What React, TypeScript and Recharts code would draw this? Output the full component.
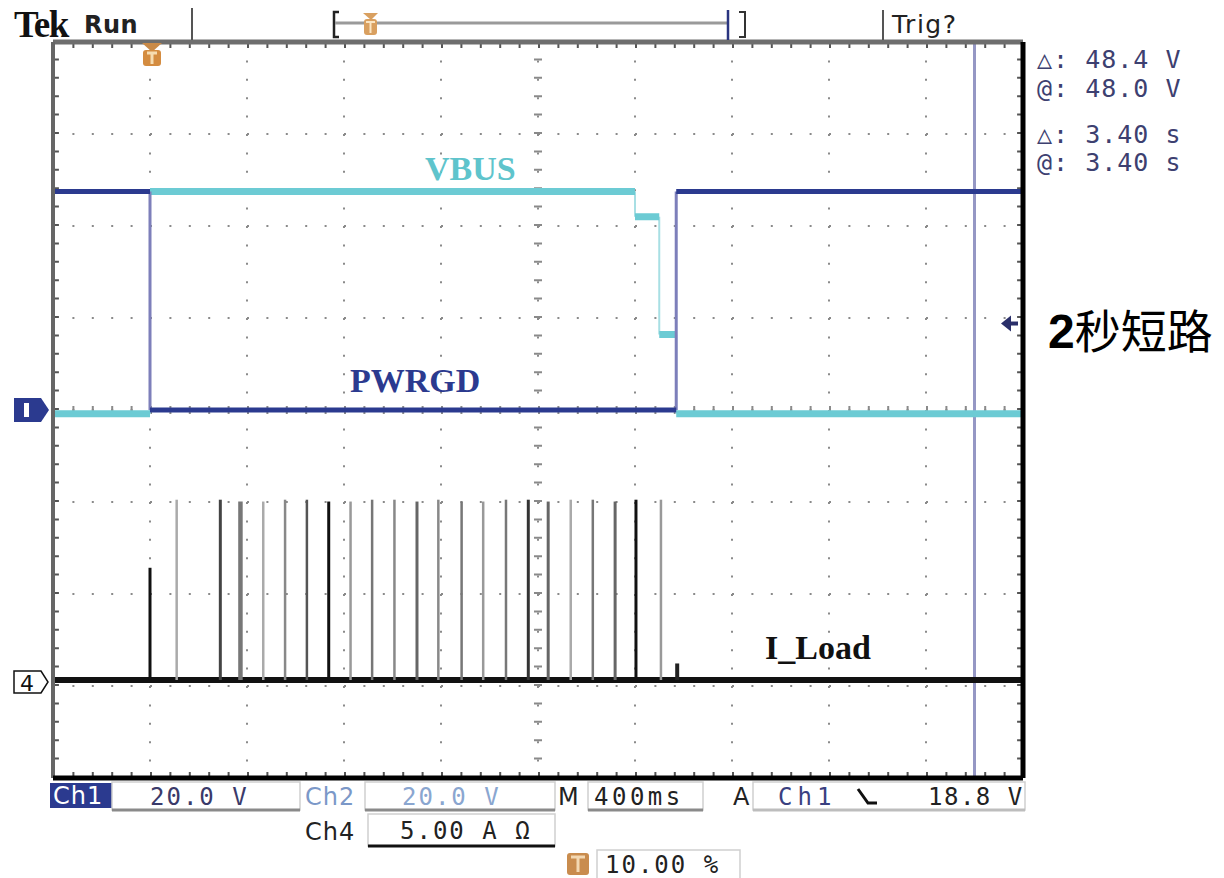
import { LineChart, Line, XAxis, YAxis, CartesianGrid, ReferenceLine, ReferenceDot } from 'recharts'

const W = 1224
const H = 878

// horizontal: 400 ms/div, 10 div, trigger at 10 %
const timeTicks = [-0.4, 0, 0.4, 0.8, 1.2, 1.6, 2.0, 2.4, 2.8, 3.2, 3.6]
// vertical: 8 div
const divTicks = [-4, -3, -2, -1, 0, 1, 2, 3, 4]

// Ch1 PWRGD, 20 V/div
const ch1Time = [-0.4, 0, 0, 2.17, 2.17, 3.6]
const ch1Volts = [47.5, 47.5, 0, 0, 47.5, 47.5]

// Ch2 VBUS, 20 V/div
const ch2Time = [-0.4, 0, 0, 2.0, 2.0, 2.1, 2.1, 2.17, 2.17, 3.6]
const ch2Volts = [-0.8, -0.8, 47.5, 47.5, 42, 42, 16.4, 16.4, -0.8, -0.8]

// Ch4 I_Load, 5 A/div, pulses during the short
const pulseTime = [0.0, 0.11, 0.29, 0.373, 0.467, 0.557, 0.647, 0.737, 0.827, 0.916, 1.008, 1.101, 1.189, 1.285, 1.374, 1.468, 1.56, 1.642, 1.735, 1.826, 1.918, 2.004, 2.107, 2.174]
const pulseAmps = [6.1, 9.8, 9.8, 9.7, 9.7, 9.8, 9.8, 9.7, 9.7, 9.8, 9.8, 9.7, 9.8, 9.7, 9.7, 9.8, 9.8, 9.7, 9.8, 9.8, 9.7, 9.8, 9.8, 0.9]
const pulseShade = ['#111', '#aaa', '#444', '#777', '#aaa', '#888', '#555', '#111', '#999', '#777', '#888', '#666', '#888', '#777', '#999', '#777', '#333', '#666', '#aaa', '#777', '#666', '#111', '#999', '#222']
const pulseWidth = [3, 2.5, 3, 4.5, 2.5, 2.5, 2.5, 3, 2.5, 2.5, 2.5, 3, 2.5, 2.5, 2.5, 2.5, 3, 3, 2.5, 2.5, 3, 3, 2.5, 4]

const CH1_SCALE = 20
const CH2_SCALE = 20
const CH4_SCALE = 5
const CH4_OFFSET = -2.935
const TRIG_LEVEL = 18.8
const CURSOR_T = 3.4

const X_DOMAIN: [number, number] = [-0.4, 3.6]
const Y_DOMAIN: [number, number] = [-4, 4]

const BLUE = '#2b3a8f'
const CYAN = '#6ccbd4'

const mono = '"DejaVu Sans Mono", "Liberation Mono", monospace'
const sans = '"DejaVu Sans", "Liberation Sans", sans-serif'
const serif = '"Liberation Serif", "Times New Roman", serif'

type Pt = { t: number; y: number | null }

// flat parts only, broken where the value jumps
function levels(time: number[], vals: number[], scale: number, offset: number): Pt[] {
  const out: Pt[] = []
  for (let i = 0; i < time.length; i++) {
    if (i > 0 && vals[i] !== vals[i - 1]) out.push({ t: time[i], y: null })
    out.push({ t: time[i], y: vals[i] / scale + offset })
  }
  return out
}

// the jumps only
function edges(time: number[], vals: number[], scale: number, offset: number): Pt[] {
  const out: Pt[] = []
  for (let i = 1; i < time.length; i++) {
    if (vals[i] !== vals[i - 1]) {
      out.push({ t: time[i - 1], y: vals[i - 1] / scale + offset })
      out.push({ t: time[i], y: vals[i] / scale + offset })
      out.push({ t: time[i], y: null })
    }
  }
  return out
}

const Ch1Marker = ({ cx, cy }: any) => (
  <g>
    <path d={`M${cx - 39} ${cy - 12} H${cx - 12} L${cx - 4} ${cy} L${cx - 12} ${cy + 12} H${cx - 39} Z`} fill={BLUE} />
    <rect x={cx - 29} y={cy - 7} width={5} height={14} fill="#fff" />
  </g>
)

const Ch4Marker = ({ cx, cy }: any) => (
  <g>
    <path d={`M${cx - 39} ${cy - 9} H${cx - 12} L${cx - 5} ${cy + 2} L${cx - 12} ${cy + 13} H${cx - 39} Z`} fill="#fff" stroke="#111" strokeWidth={1.5} />
    <text x={cx - 33} y={cy + 11} fill="#111" fontFamily={sans} fontSize={22}>4</text>
  </g>
)

const TrigPosMarker = ({ cx, cy }: any) => (
  <g>
    <path d={`M${cx - 8} ${cy + 1} H${cx + 12} L${cx + 2} ${cy + 10} Z`} fill="#c98a48" />
    <rect x={cx - 7} y={cy + 8} width={18} height={16} rx={3} fill="#d48c40" />
    <path d={`M${cx - 3} ${cy + 11} H${cx + 7} M${cx + 2} ${cy + 11} V${cy + 22}`} stroke="#f6dcb0" strokeWidth={3} />
  </g>
)

const TrigLevelMarker = ({ cx, cy }: any) => (
  <g>
    <path d={`M${cx - 22} ${cy} L${cx - 12} ${cy - 8} L${cx - 12} ${cy + 8} Z`} fill="#2a2f6a" />
    <path d={`M${cx - 12} ${cy} H${cx - 5}`} stroke="#2a2f6a" strokeWidth={4} />
  </g>
)

function Box({ x, y, w, h, bottom = '#8a8a8a' }: { x: number; y: number; w: number; h: number; bottom?: string }) {
  return (
    <g>
      <rect x={x} y={y} width={w} height={h} fill="none" stroke="#cfcfcf" strokeWidth={1.5} />
      <line x1={x} x2={x + w} y1={y + h} y2={y + h} stroke={bottom} strokeWidth={3} />
    </g>
  )
}

export default function App() {
  const ch1Lv = levels(ch1Time, ch1Volts, CH1_SCALE, 0)
  const ch1Ed = edges(ch1Time, ch1Volts, CH1_SCALE, 0)
  const ch2Lv = levels(ch2Time, ch2Volts, CH2_SCALE, 0)
  const ch2Ed = edges(ch2Time, ch2Volts, CH2_SCALE, 0)
  const ch4Base = [{ t: X_DOMAIN[0], y: CH4_OFFSET }, { t: X_DOMAIN[1], y: CH4_OFFSET }]

  // edge tick offsets (about 3 px inside the frame)
  const padX = 0.012
  const padY = 0.033

  const mono24 = { fontFamily: mono, fontSize: 24, letterSpacing: 2 }

  return (
    <div style={{ position: 'absolute', left: 0, top: 0, width: W, height: H, background: '#fff', overflow: 'hidden' }}>
      <LineChart width={W} height={H} margin={{ top: 42, right: 201, bottom: 100, left: 53 }}>
        <XAxis type="number" dataKey="t" domain={X_DOMAIN} ticks={timeTicks} hide allowDataOverflow />
        <YAxis type="number" domain={Y_DOMAIN} ticks={divTicks} hide allowDataOverflow />
        <CartesianGrid vertical={false} horizontalValues={divTicks} stroke="#8a8a8a" strokeWidth={2} strokeDasharray="2 17.4" />
        <CartesianGrid horizontal={false} verticalValues={timeTicks} stroke="#8a8a8a" strokeWidth={2} strokeDasharray="2 16.4" />

        {/* graticule ticks: centre axes and frame */}
        <ReferenceLine x={1.6} stroke="#8a8a8a" strokeWidth={8} strokeDasharray="2 16.4" />
        <ReferenceLine y={0} stroke="#8a8a8a" strokeWidth={8} strokeDasharray="2 17.4" />
        <ReferenceLine x={X_DOMAIN[0] + padX} stroke="#555" strokeWidth={6} strokeDasharray="2 16.4" />
        <ReferenceLine x={X_DOMAIN[1] - padX} stroke="#555" strokeWidth={6} strokeDasharray="2 16.4" />
        <ReferenceLine y={Y_DOMAIN[1] - padY} stroke="#555" strokeWidth={6} strokeDasharray="2 17.4" />
        <ReferenceLine y={Y_DOMAIN[0] + padY} stroke="#555" strokeWidth={6} strokeDasharray="2 17.4" />

        {/* time cursor */}
        <ReferenceLine x={CURSOR_T} stroke="#9597c4" strokeWidth={3} />

        {/* Ch4 */}
        <Line data={ch4Base} dataKey="y" stroke="#111" strokeWidth={6} dot={false} isAnimationActive={false} />
        {pulseTime.map((t, i) => (
          <Line
            key={'p' + i}
            data={[{ t, y: CH4_OFFSET }, { t, y: CH4_OFFSET + pulseAmps[i] / CH4_SCALE }]}
            dataKey="y"
            stroke={pulseShade[i]}
            strokeWidth={pulseWidth[i]}
            dot={false}
            isAnimationActive={false}
          />
        ))}

        {/* Ch2 VBUS */}
        <Line data={ch2Ed} dataKey="y" stroke="#a8dfe4" strokeWidth={2} dot={false} isAnimationActive={false} />
        <Line data={ch2Lv} dataKey="y" stroke={CYAN} strokeWidth={7} dot={false} isAnimationActive={false} />

        {/* Ch1 PWRGD */}
        <Line data={ch1Ed} dataKey="y" stroke="#7d7fba" strokeWidth={3} dot={false} isAnimationActive={false} />
        <Line data={ch1Lv} dataKey="y" stroke={BLUE} strokeWidth={5} dot={false} isAnimationActive={false} />

        {/* frame */}
        <ReferenceLine y={Y_DOMAIN[1]} stroke="#6e6e6e" strokeWidth={5} />
        <ReferenceLine x={X_DOMAIN[0]} stroke="#666" strokeWidth={4} />
        <ReferenceLine x={X_DOMAIN[1]} stroke="#000" strokeWidth={5} />
        <ReferenceLine y={Y_DOMAIN[0]} stroke="#000" strokeWidth={5} />

        <ReferenceDot x={X_DOMAIN[0]} y={0} ifOverflow="visible" shape={Ch1Marker} />
        <ReferenceDot x={X_DOMAIN[0]} y={CH4_OFFSET} ifOverflow="visible" shape={Ch4Marker} />
        <ReferenceDot x={0} y={Y_DOMAIN[1]} ifOverflow="visible" shape={TrigPosMarker} />
        <ReferenceDot x={X_DOMAIN[1]} y={TRIG_LEVEL / CH1_SCALE} ifOverflow="visible" shape={TrigLevelMarker} />
      </LineChart>

      <svg width={W} height={H} style={{ position: 'absolute', left: 0, top: 0, pointerEvents: 'none' }}>
        {/* header */}
        <text x={14} y={37} fontFamily={serif} fontWeight="bold" fontSize={37} letterSpacing={-1.5} fill="#111">Tek</text>
        <text x={84} y={33} fontFamily={sans} fontSize={24} fontWeight="bold" letterSpacing={0.5} fill="#222">Run</text>
        <line x1={192} x2={192} y1={8} y2={40} stroke="#555" strokeWidth={2} />
        <path d="M339 12 H334 V37 H339" fill="none" stroke="#222" strokeWidth={2.5} />
        <line x1={335} x2={727} y1={23} y2={23} stroke="#9a9a9a" strokeWidth={3} />
        <line x1={728} x2={728} y1={10} y2={40} stroke="#2a3580" strokeWidth={2.5} />
        <path d="M739 12 H745 V37 H739" fill="none" stroke="#333" strokeWidth={2} />
        <path d="M363 13 H378 L371 20 Z" fill="#d9a060" />
        <rect x={364} y={19} width={13} height={16} rx={3} fill="#d9a060" />
        <path d="M366 22 H375 M370.5 22 V33" stroke="#fbe6c4" strokeWidth={2} />
        <line x1={883} x2={883} y1={10} y2={40} stroke="#555" strokeWidth={2} />
        <text x={892} y={33} fontFamily={sans} fontSize={25} letterSpacing={1.5} fill="#222">Trig?</text>

        {/* cursor readouts */}
        <g fontFamily={mono} fontSize={25} letterSpacing={1} fill="#3d4070">
          <text x={1037} y={68}>△: 48.4 V</text>
          <text x={1037} y={97}>@: 48.0 V</text>
          <text x={1037} y={143}>△: 3.40 s</text>
          <text x={1037} y={171}>@: 3.40 s</text>
        </g>

        {/* trace labels */}
        <text x={425} y={180} fontFamily={serif} fontWeight="bold" fontSize={34} fill="#5fc4cc">VBUS</text>
        <text x={350} y={392} fontFamily={serif} fontWeight="bold" fontSize={34} fill={BLUE}>PWRGD</text>
        <text x={765} y={659} fontFamily={serif} fontWeight="bold" fontSize={34} fill="#111">I_Load</text>

        <text x={1048} y={348} fill="#000">
          <tspan fontFamily='"Liberation Sans", Arial, sans-serif' fontWeight="bold" fontSize={48}>2</tspan>
          <tspan fontFamily='"Noto Sans CJK SC", sans-serif' fontSize={46}>秒短路</tspan>
        </text>

        {/* bottom status */}
        <rect x={50} y={783} width={62} height={25} fill={BLUE} />
        <text x={53} y={804} fontFamily={sans} fontSize={24} letterSpacing={1} fill="#fff">Ch1</text>
        <Box x={112} y={782} w={188} h={28} />
        <text x={150} y={805} {...mono24} fill="#3a3a6a">20.0 V</text>

        <text x={305} y={805} fontFamily={sans} fontSize={24} letterSpacing={1} fill="#7b98c8">Ch2</text>
        <Box x={365} y={782} w={190} h={28} />
        <text x={402} y={805} {...mono24} fill="#8aa6d0">20.0 V</text>

        <text x={558} y={805} fontFamily={sans} fontSize={24} fill="#222">M</text>
        <Box x={588} y={782} w={115} h={28} />
        <text x={594} y={805} {...mono24} letterSpacing={3.5} fill="#222">400ms</text>

        <text x={733} y={805} fontFamily={sans} fontSize={24} fill="#222">A</text>
        <Box x={753} y={782} w={272} h={28} bottom="#bdbdbd" />
        <text x={778} y={805} {...mono24} letterSpacing={5} fill="#3a4080">Ch1</text>
        <path d="M858 789 L868 803 H877" fill="none" stroke="#111" strokeWidth={3} />
        <text x={928} y={805} {...mono24} letterSpacing={1.5} fill="#222">18.8 V</text>

        <text x={305} y={840} fontFamily={sans} fontSize={24} letterSpacing={1} fill="#222">Ch4</text>
        <Box x={368} y={814} w={187} h={32} bottom="#111" />
        <text x={400} y={839} {...mono24} fill="#222">5.00 A Ω</text>

        <rect x={567} y={853} width={22} height={22} rx={3} fill="#c98c4e" />
        <path d="M571 857 H585 M578 857 V872" stroke="#f3d8b2" strokeWidth={3} />
        <Box x={597} y={850} w={143} h={30} bottom="#cfcfcf" />
        <text x={605} y={873} {...mono24} fill="#222">10.00 %</text>
      </svg>
    </div>
  )
}
